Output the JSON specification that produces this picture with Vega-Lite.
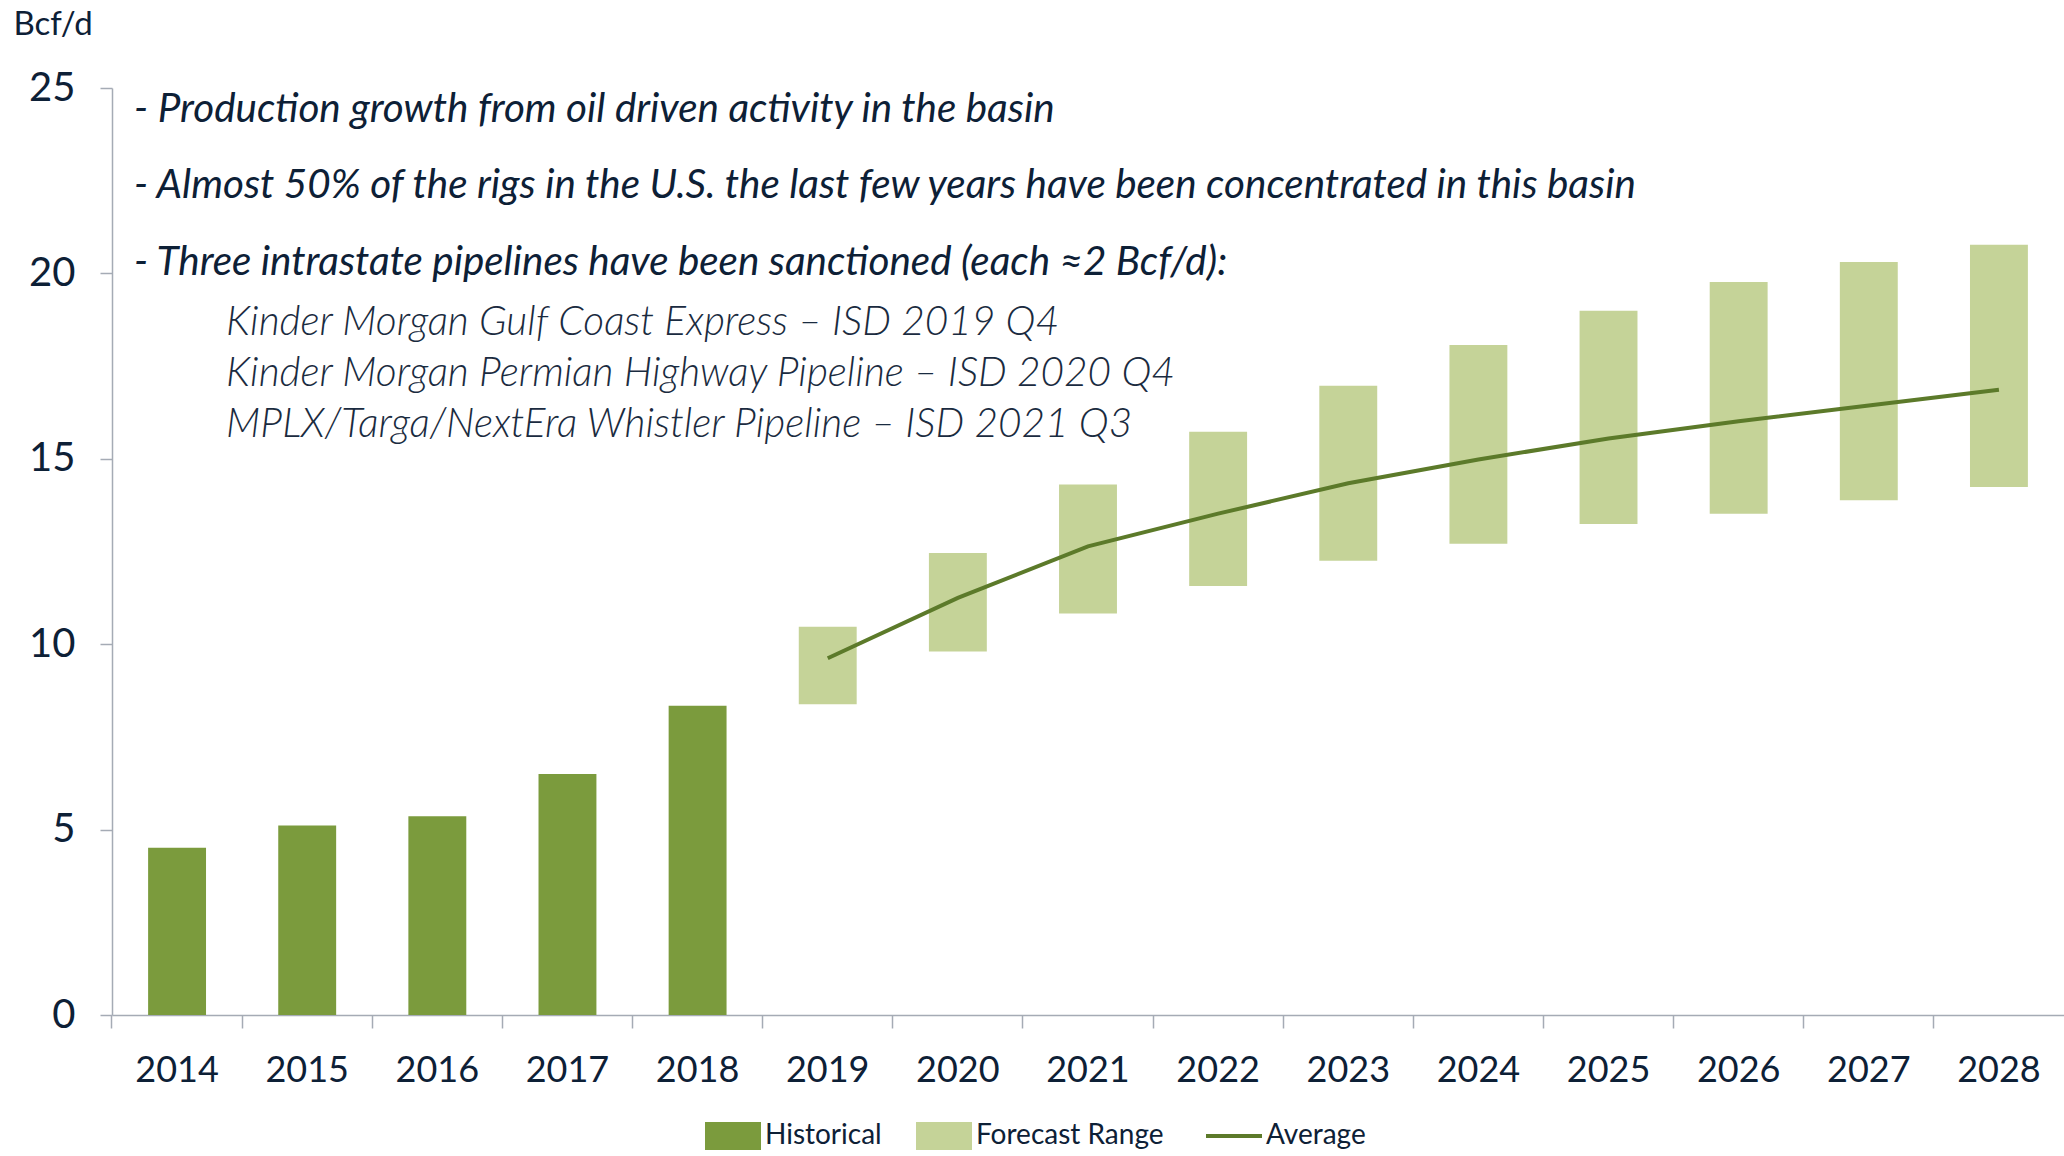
{
  "$schema": "https://vega.github.io/schema/vega-lite/v6.json",
  "width": 1952,
  "height": 927,
  "autosize": {"type": "none"},
  "padding": {"left": 112, "top": 88, "right": 0, "bottom": 141},
  "background": "white",
  "config": {
    "font": "Lato",
    "view": {"stroke": null},
    "axis": {"labelColor": "#0d2036", "titleColor": "#0d2036", "domainColor": "#a5abb5", "tickColor": "#a5abb5", "domainWidth": 1.5, "tickWidth": 1.5, "grid": false}
  },
  "datasets": {
    "main": [
      {"year": "2014", "hist": 4.51, "low": null, "high": null, "avg": null},
      {"year": "2015", "hist": 5.11, "low": null, "high": null, "avg": null},
      {"year": "2016", "hist": 5.36, "low": null, "high": null, "avg": null},
      {"year": "2017", "hist": 6.5, "low": null, "high": null, "avg": null},
      {"year": "2018", "hist": 8.34, "low": null, "high": null, "avg": null},
      {"year": "2019", "hist": null, "low": 8.38, "high": 10.47, "avg": 9.62},
      {"year": "2020", "hist": null, "low": 9.8, "high": 12.46, "avg": 11.25},
      {"year": "2021", "hist": null, "low": 10.83, "high": 14.31, "avg": 12.64},
      {"year": "2022", "hist": null, "low": 11.57, "high": 15.73, "avg": 13.52},
      {"year": "2023", "hist": null, "low": 12.25, "high": 16.97, "avg": 14.34},
      {"year": "2024", "hist": null, "low": 12.71, "high": 18.07, "avg": 14.98},
      {"year": "2025", "hist": null, "low": 13.24, "high": 18.99, "avg": 15.55},
      {"year": "2026", "hist": null, "low": 13.52, "high": 19.77, "avg": 16.01},
      {"year": "2027", "hist": null, "low": 13.88, "high": 20.31, "avg": 16.44},
      {"year": "2028", "hist": null, "low": 14.24, "high": 20.77, "avg": 16.86}
    ],
    "notes": [
      {"year": "2014", "y": 24.42, "label": "- Production growth from oil driven activity in the basin", "kind": "main"},
      {"year": "2014", "y": 22.36, "label": "- Almost 50% of the rigs in the U.S. the last few years have been concentrated in this basin", "kind": "main"},
      {"year": "2014", "y": 20.27, "label": "- Three intrastate pipelines have been sanctioned (each ≈2 Bcf/d):", "kind": "main"},
      {"year": "2014", "y": 18.67, "label": "Kinder Morgan Gulf Coast Express – ISD 2019 Q4", "kind": "sub"},
      {"year": "2014", "y": 17.29, "label": "Kinder Morgan Permian Highway Pipeline – ISD 2020 Q4", "kind": "sub"},
      {"year": "2014", "y": 15.9, "label": "MPLX/Targa/NextEra Whistler Pipeline – ISD 2021 Q3", "kind": "sub"}
    ]
  },
  "data": {"name": "main"},
  "encoding": {
    "x": {
      "field": "year", "type": "ordinal", "title": null,
      "scale": {"paddingInner": 0.555, "paddingOuter": 0.2775},
      "axis": {"labelAngle": 0, "labelFontSize": 36, "labelPadding": 25, "tickSize": 13, "bandPosition": -0.6236}
    }
  },
  "layer": [
    {
      "mark": {"type": "bar"},
      "encoding": {
        "y": {
          "field": "hist", "type": "quantitative",
          "scale": {"domain": [0, 25], "nice": false},
          "axis": {
            "values": [0, 5, 10, 15, 20, 25], "labelFontSize": 40, "labelPadding": 25, "tickSize": 12,
            "title": "Bcf/d", "titleAngle": 0, "titleAlign": "left", "titleBaseline": "middle",
            "titleX": -99, "titleY": -64, "titleFontSize": 33, "titleFontWeight": "normal"
          }
        },
        "color": {
          "datum": "Historical",
          "scale": {"domain": ["Historical", "Forecast Range", "Average"], "range": ["#7b9b3d", "#c5d398", "#5c7a2a"]},
          "legend": {
            "title": null, "orient": "none", "direction": "horizontal", "legendX": 607, "legendY": 1034,
            "labelFontSize": 28, "labelColor": "#0d2036", "labelOffset": 18, "labelLimit": 500, "columnPadding": 34,
            "symbolSize": 3136, "symbolStrokeWidth": 4, "symbolOpacity": 1,
            "encode": {
              "symbols": {
                "update": {
                  "shape": {"signal": "datum.value === 'Average' ? 'M-1,0H1' : 'M-1,-0.5H1V0.5H-1Z'"},
                  "stroke": {"signal": "datum.value === 'Average' ? '#5c7a2a' : datum.value === 'Historical' ? '#7b9b3d' : '#c5d398'"},
                  "strokeWidth": {"signal": "datum.value === 'Average' ? 4 : 0"}
                }
              }
            }
          }
        }
      }
    },
    {
      "mark": {"type": "bar"},
      "encoding": {
        "y": {"field": "low", "type": "quantitative"},
        "y2": {"field": "high"},
        "color": {"datum": "Forecast Range"}
      }
    },
    {
      "mark": {"type": "line", "strokeWidth": 4},
      "encoding": {
        "y": {"field": "avg", "type": "quantitative"},
        "color": {"datum": "Average"}
      }
    },
    {
      "data": {"name": "notes"},
      "transform": [{"filter": "datum.kind === 'main'"}],
      "mark": {"type": "text", "align": "left", "baseline": "middle", "fontStyle": "italic", "fontSize": 40.4, "color": "#0d2036", "dx": -14},
      "encoding": {
        "x": {"field": "year", "type": "ordinal", "bandPosition": 0},
        "y": {"field": "y", "type": "quantitative"},
        "text": {"field": "label"}
      }
    },
    {
      "data": {"name": "notes"},
      "transform": [{"filter": "datum.kind === 'sub'"}],
      "mark": {"type": "text", "align": "left", "baseline": "middle", "fontStyle": "italic", "fontWeight": 300, "fontSize": 40.6, "color": "#1a2b40", "dx": 78},
      "encoding": {
        "x": {"field": "year", "type": "ordinal", "bandPosition": 0},
        "y": {"field": "y", "type": "quantitative"},
        "text": {"field": "label"}
      }
    }
  ]
}
